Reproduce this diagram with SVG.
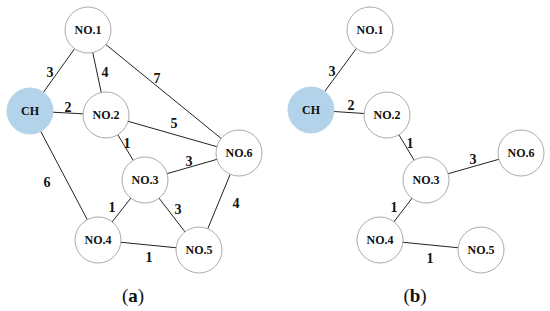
<svg xmlns="http://www.w3.org/2000/svg" width="550" height="311" viewBox="0 0 550 311" font-family="'Liberation Serif', 'Times New Roman', serif">
<style>
.edge{stroke:#222;stroke-width:1}
.node circle{fill:#fff;stroke:#aaa;stroke-width:1}
.node.ch circle{fill:#b3d3ea;stroke:#b3d3ea}
.node text{font-family:'Liberation Serif','Times New Roman',serif;font-weight:bold;font-size:12px;fill:#111;text-anchor:middle;dominant-baseline:central}
.w{font-family:'Liberation Serif','Times New Roman',serif;font-weight:bold;font-size:14px;fill:#111;text-anchor:middle;dominant-baseline:central}
.cap{font-family:'Liberation Serif','Times New Roman',serif;font-size:19px;fill:#111;text-anchor:middle}
</style>
<rect width="550" height="311" fill="#fff"/>
<g id="connectors">
<g id="edges-a">
<line class="edge" x1="30" y1="111" x2="88" y2="30"/>
<line class="edge" x1="88" y1="30" x2="106" y2="115"/>
<line class="edge" x1="88" y1="30" x2="239" y2="153"/>
<line class="edge" x1="30" y1="111" x2="106" y2="115"/>
<line class="edge" x1="106" y1="115" x2="239" y2="153"/>
<line class="edge" x1="106" y1="115" x2="145" y2="180"/>
<line class="edge" x1="30" y1="111" x2="98" y2="240"/>
<line class="edge" x1="145" y1="180" x2="239" y2="153"/>
<line class="edge" x1="145" y1="180" x2="98" y2="240"/>
<line class="edge" x1="145" y1="180" x2="199" y2="250"/>
<line class="edge" x1="239" y1="153" x2="199" y2="250"/>
<line class="edge" x1="98" y1="240" x2="199" y2="250"/>
</g>
<g id="edges-b">
<line class="edge" x1="311" y1="110" x2="370" y2="30"/>
<line class="edge" x1="311" y1="110" x2="387" y2="115"/>
<line class="edge" x1="387" y1="115" x2="426" y2="180"/>
<line class="edge" x1="426" y1="180" x2="521" y2="153"/>
<line class="edge" x1="426" y1="180" x2="380" y2="240"/>
<line class="edge" x1="380" y1="240" x2="481" y2="250"/>
</g>
<g id="weights">
<text class="w" x="50" y="72">3</text>
<text class="w" x="105" y="72">4</text>
<text class="w" x="157" y="78">7</text>
<text class="w" x="68" y="107">2</text>
<text class="w" x="174" y="123">5</text>
<text class="w" x="127" y="143">1</text>
<text class="w" x="47" y="182">6</text>
<text class="w" x="189" y="161">3</text>
<text class="w" x="112" y="207">1</text>
<text class="w" x="178" y="209">3</text>
<text class="w" x="236" y="203">4</text>
<text class="w" x="149" y="257">1</text>
<text class="w" x="332" y="71">3</text>
<text class="w" x="351" y="105">2</text>
<text class="w" x="410" y="143">1</text>
<text class="w" x="473" y="159">3</text>
<text class="w" x="394" y="207">1</text>
<text class="w" x="430" y="258">1</text>
</g>
</g>
<g id="a-ch" class="node ch"><circle cx="30" cy="111" r="23"/><text x="30" y="111">CH</text></g>
<g id="a-no1" class="node"><circle cx="88" cy="30" r="23"/><text x="88" y="30">NO.1</text></g>
<g id="a-no2" class="node"><circle cx="106" cy="115" r="23"/><text x="106" y="115">NO.2</text></g>
<g id="a-no3" class="node"><circle cx="145" cy="180" r="23"/><text x="145" y="180">NO.3</text></g>
<g id="a-no4" class="node"><circle cx="98" cy="240" r="23"/><text x="98" y="240">NO.4</text></g>
<g id="a-no5" class="node"><circle cx="199" cy="250" r="23"/><text x="199" y="250">NO.5</text></g>
<g id="a-no6" class="node"><circle cx="239" cy="153" r="23"/><text x="239" y="153">NO.6</text></g>
<g id="b-ch" class="node ch"><circle cx="311" cy="110" r="23"/><text x="311" y="110">CH</text></g>
<g id="b-no1" class="node"><circle cx="370" cy="30" r="23"/><text x="370" y="30">NO.1</text></g>
<g id="b-no2" class="node"><circle cx="387" cy="115" r="23"/><text x="387" y="115">NO.2</text></g>
<g id="b-no3" class="node"><circle cx="426" cy="180" r="23"/><text x="426" y="180">NO.3</text></g>
<g id="b-no4" class="node"><circle cx="380" cy="240" r="23"/><text x="380" y="240">NO.4</text></g>
<g id="b-no5" class="node"><circle cx="481" cy="250" r="23"/><text x="481" y="250">NO.5</text></g>
<g id="b-no6" class="node"><circle cx="521" cy="153" r="23"/><text x="521" y="153">NO.6</text></g>
<text class="cap" x="133" y="302">(<tspan font-weight="bold">a</tspan>)</text>
<text class="cap" x="415" y="302">(<tspan font-weight="bold">b</tspan>)</text>
</svg>
